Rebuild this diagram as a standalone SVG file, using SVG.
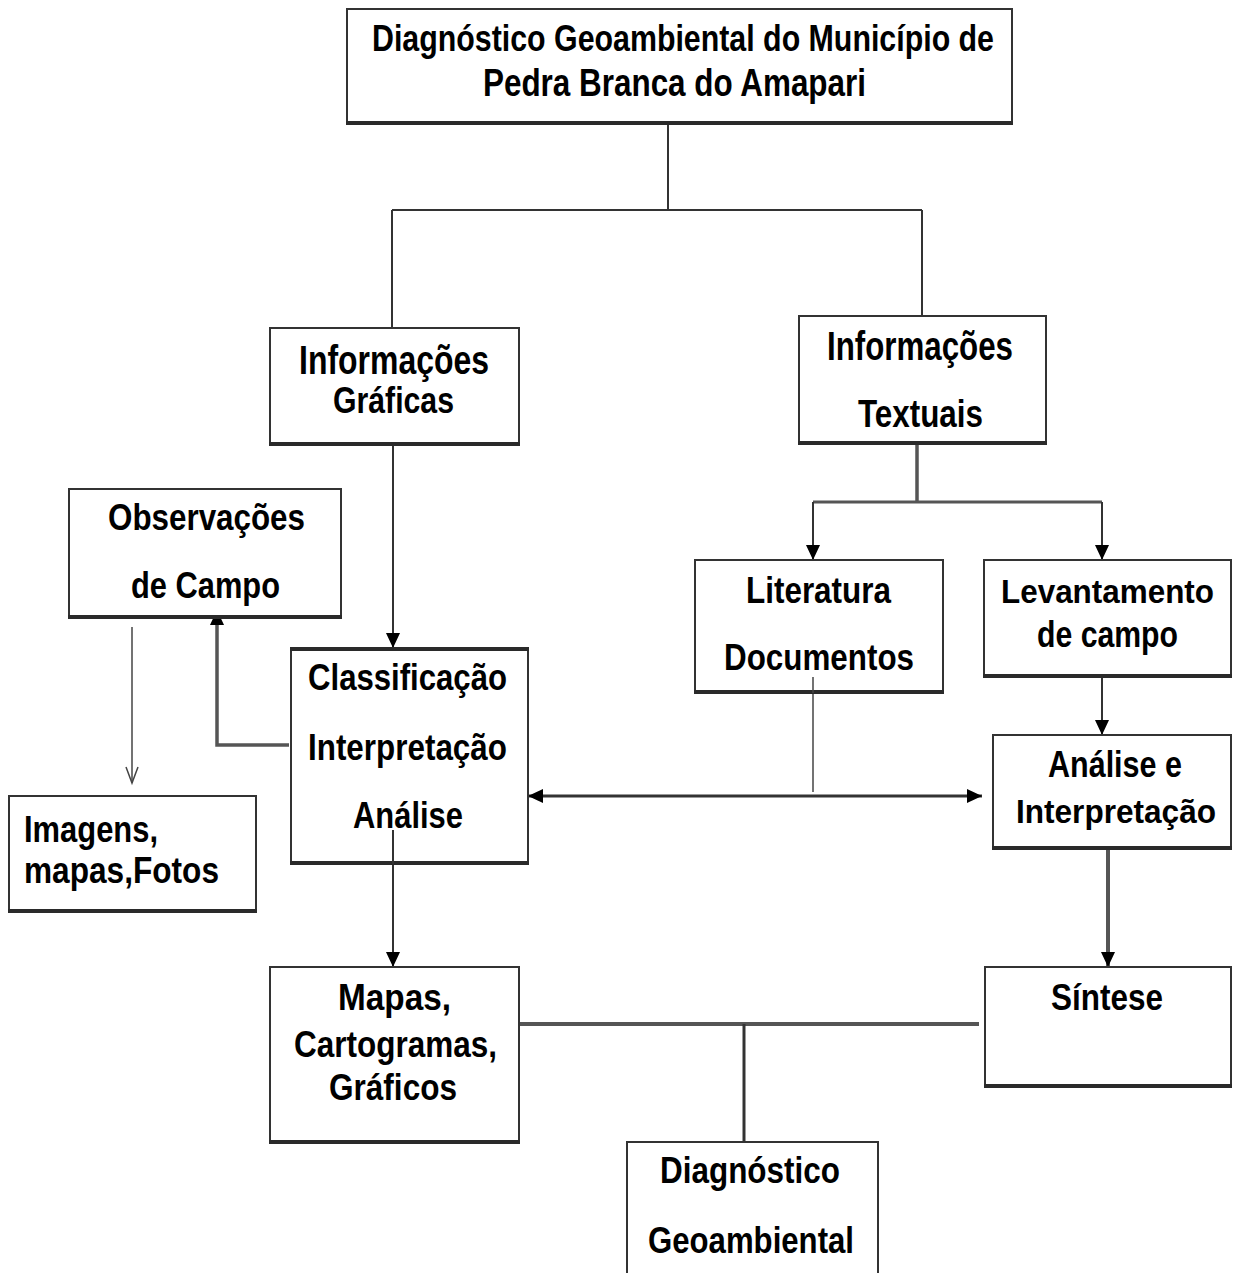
<svg xmlns="http://www.w3.org/2000/svg" width="1237" height="1273" viewBox="0 0 1237 1273">
<style>
.box{fill:#fff;stroke:#333;stroke-width:2}
.bot{stroke:#2a2a2a;stroke-width:4}
.t{font-family:"Liberation Sans",Arial,sans-serif;font-weight:bold;font-size:37px;fill:#000}
.c{fill:none;stroke:#333;stroke-width:2}
.g{fill:none;stroke:#555;stroke-width:3.5}
.thin{fill:none;stroke:#444;stroke-width:1.5}
</style>
<defs>
<marker id="ah" markerUnits="userSpaceOnUse" markerWidth="16" markerHeight="14" refX="15" refY="7" orient="auto-start-reverse">
<path d="M0,0 L15,7 L0,14 z" fill="#000"/>
</marker>
</defs>
<rect width="1237" height="1273" fill="#fff"/>
<g id="connectors">
<line class="c" x1="668" y1="124" x2="668" y2="210"/>
<line class="c" x1="392" y1="210" x2="922" y2="210" stroke-width="3"/>
<line class="c" x1="392" y1="210" x2="392" y2="328"/>
<line class="c" x1="922" y1="210" x2="922" y2="316"/>
<line class="c" x1="393" y1="445" x2="393" y2="648" marker-end="url(#ah)"/>
<polyline class="g" points="289,745 217,745 217,610" marker-end="url(#ah)"/>
<line class="thin" x1="132" y1="627" x2="132" y2="783"/>
<polyline class="thin" points="126,767 132,783 138,767"/>
<line class="g" x1="917" y1="444" x2="917" y2="502"/>
<line class="g" x1="813" y1="502" x2="1102" y2="502" style="stroke-width:3"/>
<line class="c" x1="813" y1="502" x2="813" y2="560" marker-end="url(#ah)"/>
<line class="c" x1="1102" y1="502" x2="1102" y2="560" marker-end="url(#ah)"/>
<line class="c" x1="1102" y1="677" x2="1102" y2="735" marker-end="url(#ah)"/>
<line class="thin" x1="813" y1="677" x2="813" y2="792"/>
<line class="c" x1="528" y1="796" x2="982" y2="796" style="stroke-width:3" marker-start="url(#ah)" marker-end="url(#ah)"/>
<line class="g" x1="1108" y1="850" x2="1108" y2="967" style="stroke-width:4" marker-end="url(#ah)"/>
<line class="c" x1="393" y1="830" x2="393" y2="967" marker-end="url(#ah)"/>
<line class="g" x1="519" y1="1024" x2="979" y2="1024" style="stroke-width:4"/>
<line class="c" x1="744" y1="1024" x2="744" y2="1142" style="stroke-width:3"/>
</g>
<g id="n-top">
<rect class="box" x="347" y="9" width="665" height="115"/>
<line class="bot" x1="346" y1="123" x2="1013" y2="123"/>
<text class="t" x="372" y="51" style="font-size:36px" textLength="622" lengthAdjust="spacingAndGlyphs">Diagnóstico Geoambiental do Município de</text>
<text class="t" x="483" y="96" style="font-size:39px" textLength="383" lengthAdjust="spacingAndGlyphs">Pedra Branca do Amapari</text>
</g>
<g id="n-graficas">
<rect class="box" x="270" y="328" width="249" height="117"/>
<line class="bot" x1="269" y1="444" x2="520" y2="444"/>
<text class="t" x="299" y="374" style="font-size:41px" textLength="190" lengthAdjust="spacingAndGlyphs">Informações</text>
<text class="t" x="333" y="413" textLength="121" lengthAdjust="spacingAndGlyphs">Gráficas</text>
</g>
<g id="n-textuais">
<rect class="box" x="799" y="316" width="247" height="128"/>
<line class="bot" x1="798" y1="443" x2="1047" y2="443"/>
<text class="t" x="827" y="360" style="font-size:40px" textLength="186" lengthAdjust="spacingAndGlyphs">Informações</text>
<text class="t" x="858" y="427" style="font-size:38px" textLength="125" lengthAdjust="spacingAndGlyphs">Textuais</text>
</g>
<g id="n-observacoes">
<rect class="box" x="69" y="489" width="272" height="129"/>
<line class="bot" x1="68" y1="617" x2="342" y2="617"/>
<text class="t" x="108" y="530" textLength="197" lengthAdjust="spacingAndGlyphs">Observações</text>
<text class="t" x="131" y="598" textLength="149" lengthAdjust="spacingAndGlyphs">de Campo</text>
</g>
<g id="n-classificacao">
<rect class="box" x="291" y="648" width="237" height="216"/>
<line class="bot" x1="290" y1="649" x2="529" y2="649"/>
<line class="bot" x1="290" y1="863" x2="529" y2="863"/>
<text class="t" x="308" y="690" textLength="199" lengthAdjust="spacingAndGlyphs">Classificação</text>
<text class="t" x="308" y="760" textLength="199" lengthAdjust="spacingAndGlyphs">Interpretação</text>
<text class="t" x="353" y="828" textLength="110" lengthAdjust="spacingAndGlyphs">Análise</text>
</g>
<line class="c" x1="393" y1="830" x2="393" y2="864"/>
<g id="n-imagens">
<rect class="box" x="9" y="796" width="247" height="116"/>
<line class="bot" x1="8" y1="911" x2="257" y2="911"/>
<text class="t" x="24" y="842" style="font-size:36px" textLength="134" lengthAdjust="spacingAndGlyphs">Imagens,</text>
<text class="t" x="24" y="883" style="font-size:36px" textLength="195" lengthAdjust="spacingAndGlyphs">mapas,Fotos</text>
</g>
<g id="n-literatura">
<rect class="box" x="695" y="560" width="248" height="133"/>
<line class="bot" x1="694" y1="692" x2="944" y2="692"/>
<text class="t" x="746" y="603" textLength="145" lengthAdjust="spacingAndGlyphs">Literatura</text>
<text class="t" x="724" y="670" textLength="190" lengthAdjust="spacingAndGlyphs">Documentos</text>
</g>
<line class="thin" x1="813" y1="677" x2="813" y2="693"/>
<g id="n-levantamento">
<rect class="box" x="984" y="560" width="247" height="117"/>
<line class="bot" x1="983" y1="676" x2="1232" y2="676"/>
<text class="t" x="1001" y="603" style="font-size:33px" textLength="213" lengthAdjust="spacingAndGlyphs">Levantamento</text>
<text class="t" x="1037" y="647" textLength="141" lengthAdjust="spacingAndGlyphs">de campo</text>
</g>
<g id="n-analise">
<rect class="box" x="993" y="735" width="238" height="114"/>
<line class="bot" x1="992" y1="848" x2="1232" y2="848"/>
<text class="t" x="1048" y="777" textLength="134" lengthAdjust="spacingAndGlyphs">Análise e</text>
<text class="t" x="1016" y="823" style="font-size:33px" textLength="200" lengthAdjust="spacingAndGlyphs">Interpretação</text>
</g>
<g id="n-mapas">
<rect class="box" x="270" y="967" width="249" height="176"/>
<line class="bot" x1="269" y1="1142" x2="520" y2="1142"/>
<text class="t" x="338" y="1010" textLength="113" lengthAdjust="spacingAndGlyphs">Mapas,</text>
<text class="t" x="294" y="1057" textLength="203" lengthAdjust="spacingAndGlyphs">Cartogramas,</text>
<text class="t" x="329" y="1100" textLength="128" lengthAdjust="spacingAndGlyphs">Gráficos</text>
</g>
<g id="n-sintese">
<rect class="box" x="985" y="967" width="246" height="120"/>
<line class="bot" x1="984" y1="1086" x2="1232" y2="1086"/>
<text class="t" x="1051" y="1010" textLength="112" lengthAdjust="spacingAndGlyphs">Síntese</text>
</g>
<g id="n-diagnostico">
<rect class="box" x="627" y="1142" width="251" height="150"/>
<text class="t" x="660" y="1183" textLength="180" lengthAdjust="spacingAndGlyphs">Diagnóstico</text>
<text class="t" x="648" y="1253" textLength="206" lengthAdjust="spacingAndGlyphs">Geoambiental</text>
</g>
</svg>
